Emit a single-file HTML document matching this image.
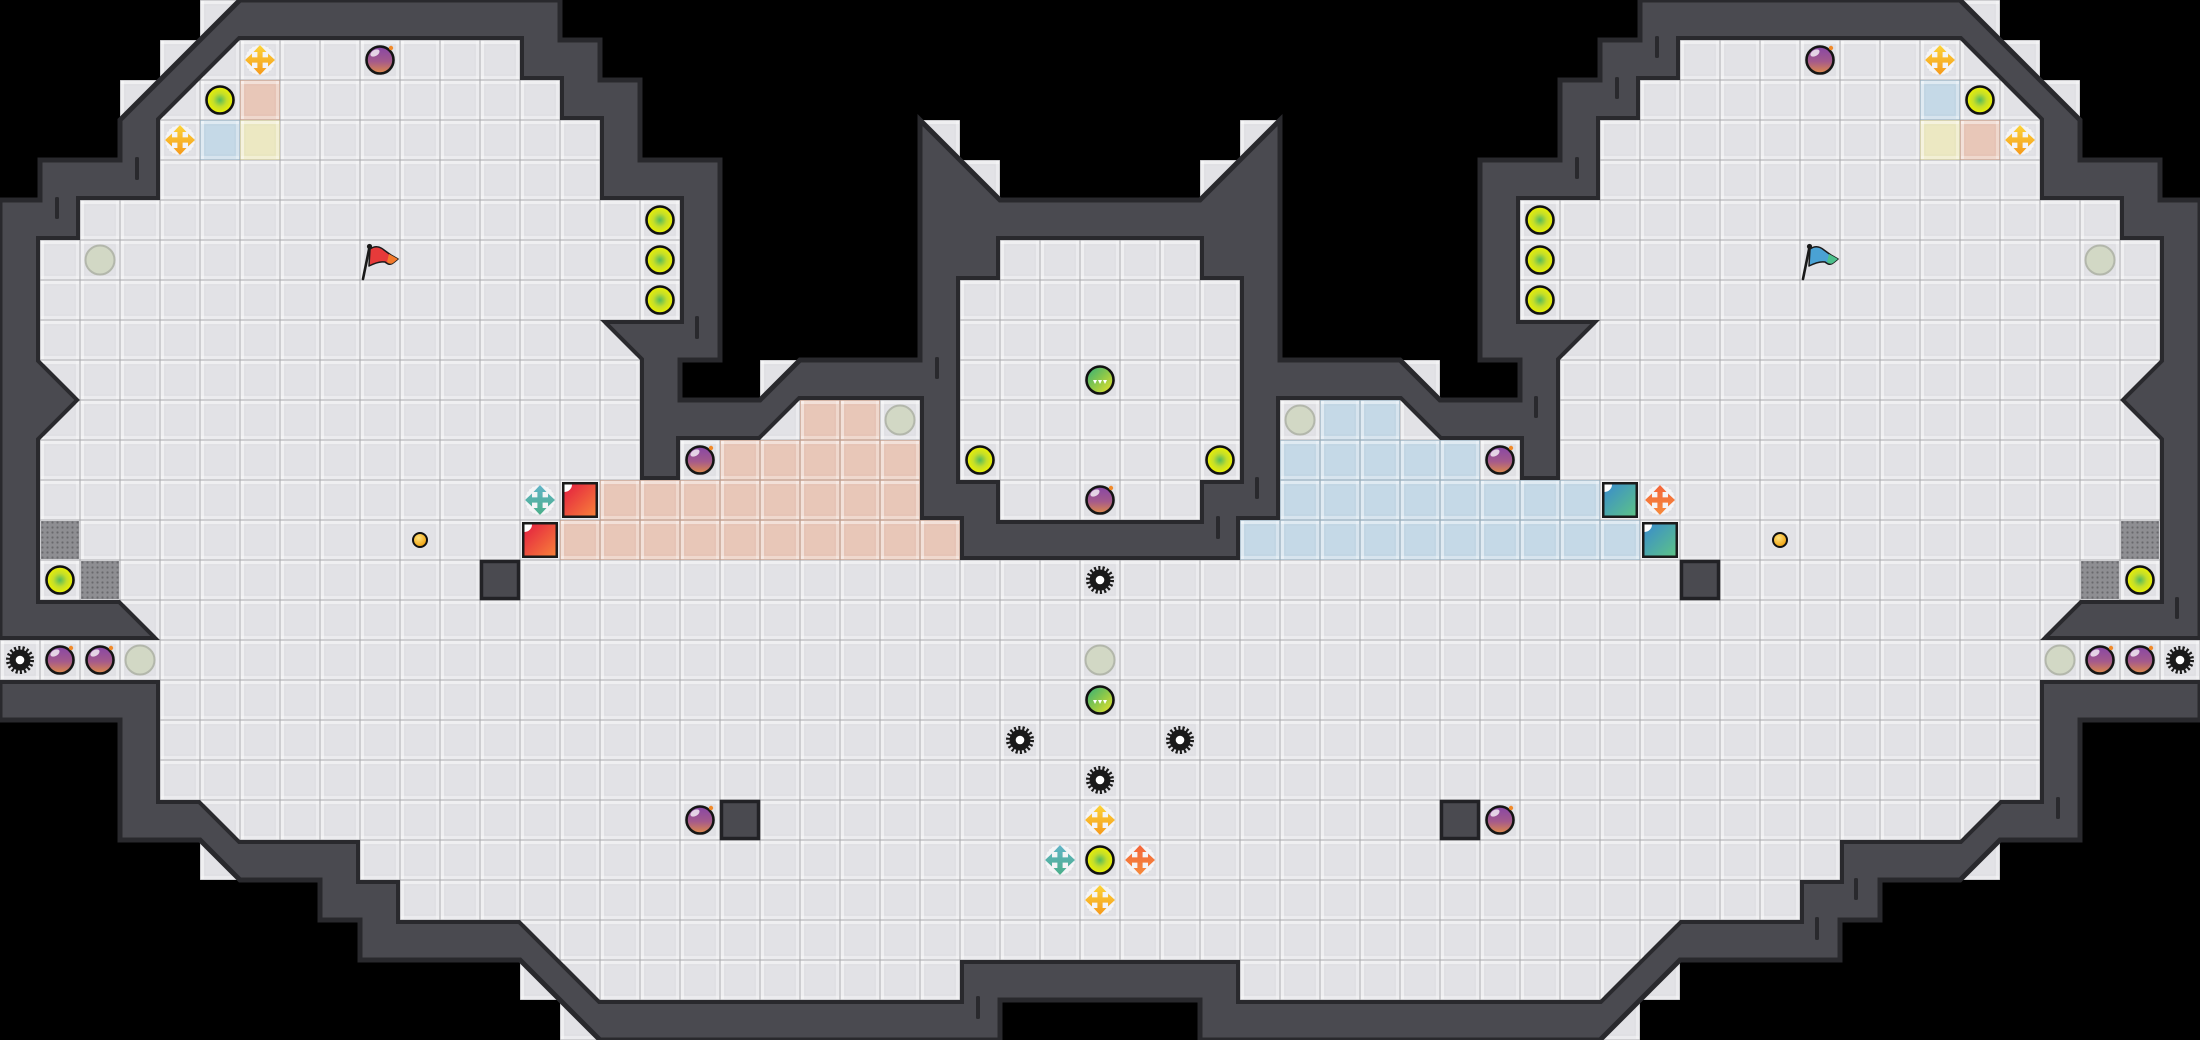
<!DOCTYPE html>
<html>
<head>
<meta charset="utf-8">
<style>
html,body{margin:0;padding:0;background:#000;}
svg{display:block;}
</style>
</head>
<body>
<svg xmlns="http://www.w3.org/2000/svg" width="2200" height="1040" viewBox="0 0 2200 1040">
<defs>
  <pattern id="grid" width="40" height="40" patternUnits="userSpaceOnUse">
    <rect x="1" y="1" width="38" height="3" fill="#fff" fill-opacity="0.45"/>
    <rect x="1" y="36" width="38" height="3" fill="#fff" fill-opacity="0.3"/>
    <rect x="1" y="1" width="3" height="38" fill="#fff" fill-opacity="0.45"/>
    <rect x="36" y="1" width="3" height="38" fill="#fff" fill-opacity="0.3"/>
    <rect x="0" y="0" width="40" height="1" fill="#000" fill-opacity="0.09"/>
    <rect x="0" y="39" width="40" height="1" fill="#000" fill-opacity="0.09"/>
    <rect x="0" y="0" width="1" height="40" fill="#000" fill-opacity="0.09"/>
    <rect x="39" y="0" width="1" height="40" fill="#000" fill-opacity="0.09"/>
    <rect x="5" y="5" width="30" height="30" fill="none" stroke="#000" stroke-opacity="0.025" stroke-width="1"/>
  </pattern>
  <pattern id="dots" width="5" height="5" patternUnits="userSpaceOnUse">
    <circle cx="2.5" cy="2.5" r="1.1" fill="#69696d"/>
  </pattern>
  <radialGradient id="gYC" cx="50%" cy="50%" r="50%">
    <stop offset="0" stop-color="#55bb5c"/>
    <stop offset="0.5" stop-color="#c4de2a"/>
    <stop offset="1" stop-color="#eef200"/>
  </radialGradient>
  <linearGradient id="gBomb" x1="0" y1="0" x2="0" y2="1">
    <stop offset="0" stop-color="#8746a6"/>
    <stop offset="0.55" stop-color="#a45a8c"/>
    <stop offset="1" stop-color="#de8a48"/>
  </linearGradient>
  <linearGradient id="gY" x1="0" y1="0" x2="0" y2="1">
    <stop offset="0" stop-color="#fcd43a"/>
    <stop offset="1" stop-color="#f5991c"/>
  </linearGradient>
  <linearGradient id="gT" x1="0" y1="0" x2="0" y2="1">
    <stop offset="0" stop-color="#63b4c8"/>
    <stop offset="1" stop-color="#4aae88"/>
  </linearGradient>
  <linearGradient id="gO" x1="0" y1="0" x2="0" y2="1">
    <stop offset="0" stop-color="#f4653a"/>
    <stop offset="1" stop-color="#f58a3c"/>
  </linearGradient>
  <linearGradient id="gRed" x1="0" y1="0" x2="1" y2="1">
    <stop offset="0" stop-color="#e31f40"/>
    <stop offset="1" stop-color="#f8803a"/>
  </linearGradient>
  <linearGradient id="gBlue" x1="0" y1="0" x2="1" y2="1">
    <stop offset="0" stop-color="#3a8ccc"/>
    <stop offset="1" stop-color="#5cc288"/>
  </linearGradient>
  <linearGradient id="gGreen" x1="0" y1="0" x2="1" y2="1">
    <stop offset="0" stop-color="#2fae7c"/>
    <stop offset="0.5" stop-color="#8cc84a"/>
    <stop offset="1" stop-color="#f0e428"/>
  </linearGradient>
  <radialGradient id="gCoin" cx="40%" cy="35%" r="60%">
    <stop offset="0" stop-color="#ffe27a"/>
    <stop offset="1" stop-color="#f0a414"/>
  </radialGradient>

  <g id="yc"><circle r="13.5" fill="url(#gYC)" stroke="#111" stroke-width="2.6"/></g>
  <g id="gc"><circle r="14.5" fill="#d2d8c5" stroke="#b3b7ab" stroke-width="2"/></g>
  <g id="bomb">
    <circle r="13.5" fill="url(#gBomb)" stroke="#151515" stroke-width="2.6"/>
    <ellipse cx="-5" cy="-7" rx="5" ry="3" fill="#fff" fill-opacity="0.75" transform="rotate(-30 -5 -7)"/>
    <circle cx="11" cy="-12" r="2.2" fill="#f08a2a"/>
  </g>
  <path id="crossShape" d="M-2.6,-8 H-6.5 L0,-15 L6.5,-8 H2.6 V-2.6 H8 V-6.5 L15,0 L8,6.5 V2.6 H2.6 V8 H6.5 L0,15 L-6.5,8 H-2.6 V2.6 H-8 V6.5 L-15,0 L-8,-6.5 V-2.6 H-2.6 Z"/>
  <g id="ycross"><circle r="15" fill="#f4f4f6" stroke="#dcdce0" stroke-width="1" stroke-dasharray="2 2"/><use href="#crossShape" fill="url(#gY)"/></g>
  <g id="tcross"><circle r="15" fill="#f4f4f6" stroke="#dcdce0" stroke-width="1" stroke-dasharray="2 2"/><use href="#crossShape" fill="url(#gT)"/></g>
  <g id="ocross"><circle r="15" fill="#f4f4f6" stroke="#dcdce0" stroke-width="1" stroke-dasharray="2 2"/><use href="#crossShape" fill="url(#gO)"/></g>
  <g id="redsq">
    <rect x="-18" y="-18" width="36" height="36" fill="#1b1b1b"/>
    <rect x="-15.5" y="-15.5" width="31" height="31" fill="url(#gRed)"/>
    <path d="M-15.5,-15.5 H-8 A7.5,7.5 0 0 1 -15.5,-8 Z" fill="#fff"/>
  </g>
  <g id="bluesq">
    <rect x="-18" y="-18" width="36" height="36" fill="#1b1b1b"/>
    <rect x="-15.5" y="-15.5" width="31" height="31" fill="url(#gBlue)"/>
    <path d="M-15.5,-15.5 H-8 A7.5,7.5 0 0 1 -15.5,-8 Z" fill="#fff"/>
  </g>
  <g id="gear">
    <circle r="10.5" fill="#1a1a1a"/>
    <circle r="12" fill="none" stroke="#1a1a1a" stroke-width="4" stroke-dasharray="2.1 2.09"/>
    <circle r="4.3" fill="#fff"/>
  </g>
  <g id="coin"><circle r="7" fill="url(#gCoin)" stroke="#111" stroke-width="2"/></g>
  <g id="gball">
    <circle r="13.5" fill="url(#gGreen)" stroke="#111" stroke-width="2.6"/>
    <path d="M-7,0 L-3,0 L-5,4 Z M-2,0 L2,0 L0,4 Z M3,0 L7,0 L5,4 Z" fill="#fff"/>
  </g>
</defs>

<!-- background -->
<rect width="2200" height="1040" fill="#000"/>

<!-- floor tiles peeking outside diagonal walls -->
<g>
  <g fill="#e2e2e6">
    <rect x="200" y="0" width="40" height="40"/><rect x="160" y="40" width="40" height="40"/><rect x="120" y="80" width="40" height="40"/>
    <rect x="920" y="120" width="40" height="40"/><rect x="960" y="160" width="40" height="40"/>
    <rect x="1200" y="160" width="40" height="40"/><rect x="1240" y="120" width="40" height="40"/>
    <rect x="760" y="360" width="40" height="40"/><rect x="1400" y="360" width="40" height="40"/>
    <rect x="1960" y="0" width="40" height="40"/><rect x="2000" y="40" width="40" height="40"/><rect x="2040" y="80" width="40" height="40"/>
    <rect x="200" y="840" width="40" height="40"/><rect x="520" y="960" width="40" height="40"/><rect x="560" y="1000" width="40" height="40"/>
    <rect x="1960" y="840" width="40" height="40"/><rect x="1640" y="960" width="40" height="40"/><rect x="1600" y="1000" width="40" height="40"/>
  </g>
  <g fill="url(#grid)">
    <rect x="200" y="0" width="40" height="40"/><rect x="160" y="40" width="40" height="40"/><rect x="120" y="80" width="40" height="40"/>
    <rect x="920" y="120" width="40" height="40"/><rect x="960" y="160" width="40" height="40"/>
    <rect x="1200" y="160" width="40" height="40"/><rect x="1240" y="120" width="40" height="40"/>
    <rect x="760" y="360" width="40" height="40"/><rect x="1400" y="360" width="40" height="40"/>
    <rect x="1960" y="0" width="40" height="40"/><rect x="2000" y="40" width="40" height="40"/><rect x="2040" y="80" width="40" height="40"/>
    <rect x="200" y="840" width="40" height="40"/><rect x="520" y="960" width="40" height="40"/><rect x="560" y="1000" width="40" height="40"/>
    <rect x="1960" y="840" width="40" height="40"/><rect x="1640" y="960" width="40" height="40"/><rect x="1600" y="1000" width="40" height="40"/>
  </g>
</g>

<!-- wall mass -->
<polygon fill="#4a4a50" stroke="#29292d" stroke-width="5" stroke-linejoin="miter"
 points="0,200 40,200 40,160 120,160 120,120 240,0 560,0 560,40 600,40 600,80 640,80 640,160 720,160 720,360 680,360 680,400 760,400 800,360 920,360 920,120 1000,200 1200,200 1280,120 1280,360 1400,360 1440,400 1520,400 1520,360 1480,360 1480,160 1560,160 1560,80 1600,80 1600,40 1640,40 1640,0 1960,0 2080,120 2080,160 2160,160 2160,200 2200,200 2200,720 2080,720 2080,840 2000,840 1960,880 1880,880 1880,920 1840,920 1840,960 1680,960 1600,1040 1200,1040 1200,1000 1000,1000 1000,1040 600,1040 520,960 360,960 360,920 320,920 320,880 240,880 200,840 120,840 120,720 0,720"/>

<!-- floor outlines (dark edge on wall side) -->
<g fill="none" stroke="#29292d" stroke-width="8" stroke-linejoin="miter">
  <polygon id="floorI" points="40,600 120,600 160,640 -20,640 -20,680 160,680 160,800 200,800 240,840 360,840 360,880 400,880 400,920 520,920 600,1000 960,1000 960,960 1240,960 1240,1000 1600,1000 1680,920 1800,920 1800,880 1840,880 1840,840 1960,840 2000,800 2040,800 2040,680 2220,680 2220,640 2040,640 2080,600 2160,600 2160,440 2120,400 2160,360 2160,240 2120,240 2120,200 2040,200 2040,120 1960,40 1680,40 1680,80 1640,80 1640,120 1600,120 1600,200 1520,200 1520,320 1600,320 1560,360 1560,480 1520,480 1520,440 1440,440 1400,400 1280,400 1280,520 1240,520 1240,560 960,560 960,520 920,520 920,400 800,400 760,440 680,440 680,480 640,480 640,360 600,320 680,320 680,200 600,200 600,120 560,120 560,80 520,80 520,40 240,40 160,120 160,200 80,200 80,240 40,240 40,360 80,400 40,440"/>
  <polygon id="floorC" points="1000,240 1200,240 1200,280 1240,280 1240,480 1200,480 1200,520 1000,520 1000,480 960,480 960,280 1000,280"/>
</g>
<use href="#floorI" fill="#e2e2e6" stroke="none"/>
<use href="#floorC" fill="#e2e2e6" stroke="none"/>

<!-- coloured floor cells -->
<g fill="#e8c7b8">
  <rect x="800" y="400" width="80" height="40"/>
  <rect x="720" y="440" width="200" height="40"/>
  <rect x="600" y="480" width="320" height="40"/>
  <rect x="560" y="520" width="400" height="40"/>
  <rect x="240" y="80" width="40" height="40"/>
  <rect x="1960" y="120" width="40" height="40"/>
</g>
<g fill="#c5d9e7">
  <rect x="1320" y="400" width="80" height="40"/>
  <rect x="1280" y="440" width="200" height="40"/>
  <rect x="1280" y="480" width="320" height="40"/>
  <rect x="1240" y="520" width="400" height="40"/>
  <rect x="200" y="120" width="40" height="40"/>
  <rect x="1920" y="80" width="40" height="40"/>
</g>
<g fill="#ece8c2">
  <rect x="240" y="120" width="40" height="40"/>
  <rect x="1920" y="120" width="40" height="40"/>
</g>

<!-- grid overlay -->
<use href="#floorI" fill="url(#grid)" stroke="none"/>
<use href="#floorC" fill="url(#grid)" stroke="none"/>

<!-- grates -->
<g>
  <rect x="41" y="521" width="38" height="38" fill="#8e8e92"/><rect x="41" y="521" width="38" height="38" fill="url(#dots)"/>
  <rect x="81" y="561" width="38" height="38" fill="#8e8e92"/><rect x="81" y="561" width="38" height="38" fill="url(#dots)"/>
  <rect x="2121" y="521" width="38" height="38" fill="#8e8e92"/><rect x="2121" y="521" width="38" height="38" fill="url(#dots)"/>
  <rect x="2081" y="561" width="38" height="38" fill="#8e8e92"/><rect x="2081" y="561" width="38" height="38" fill="url(#dots)"/>
</g>

<!-- dark blocks -->
<g fill="#4a4a50" stroke="#222226" stroke-width="3.5">
  <rect x="481.5" y="561.5" width="37" height="37"/>
  <rect x="721.5" y="801.5" width="37" height="37"/>
  <rect x="1441.5" y="801.5" width="37" height="37"/>
  <rect x="1681.5" y="561.5" width="37" height="37"/>
</g>

<!-- wall seam ticks -->
<g fill="#29292d">
  <rect x="135" y="157" width="4" height="23" rx="1.5"/>
  <rect x="55" y="197" width="4" height="22" rx="1.5"/>
  <rect x="695" y="316" width="4" height="23" rx="1.5"/>
  <rect x="935" y="357" width="4" height="22" rx="1.5"/>
  <rect x="976" y="996" width="4" height="23" rx="1.5"/>
  <rect x="1255" y="477" width="4" height="22" rx="1.5"/>
  <rect x="1216" y="516" width="4" height="23" rx="1.5"/>
  <rect x="1534" y="396" width="4" height="22" rx="1.5"/>
  <rect x="1575" y="157" width="4" height="22" rx="1.5"/>
  <rect x="1615" y="77" width="4" height="22" rx="1.5"/>
  <rect x="1655" y="36" width="4" height="22" rx="1.5"/>
  <rect x="2175" y="597" width="4" height="22" rx="1.5"/>
  <rect x="2056" y="797" width="4" height="22" rx="1.5"/>
  <rect x="1854" y="878" width="4" height="22" rx="1.5"/>
  <rect x="1815" y="917" width="4" height="23" rx="1.5"/>
</g>

<!-- yellow circles -->
<use href="#yc" x="220" y="100"/>
<use href="#yc" x="660" y="220"/>
<use href="#yc" x="660" y="260"/>
<use href="#yc" x="660" y="300"/>
<use href="#yc" x="60" y="580"/>
<use href="#yc" x="980" y="460"/>
<use href="#yc" x="1220" y="460"/>
<use href="#yc" x="1100" y="860"/>
<use href="#yc" x="1540" y="220"/>
<use href="#yc" x="1540" y="260"/>
<use href="#yc" x="1540" y="300"/>
<use href="#yc" x="1980" y="100"/>
<use href="#yc" x="2140" y="580"/>

<!-- grey circles -->
<use href="#gc" x="100" y="260"/>
<use href="#gc" x="900" y="420"/>
<use href="#gc" x="140" y="660"/>
<use href="#gc" x="1100" y="660"/>
<use href="#gc" x="1300" y="420"/>
<use href="#gc" x="2060" y="660"/>
<use href="#gc" x="2100" y="260"/>

<!-- bombs -->
<use href="#bomb" x="380" y="60"/>
<use href="#bomb" x="700" y="460"/>
<use href="#bomb" x="60" y="660"/>
<use href="#bomb" x="100" y="660"/>
<use href="#bomb" x="1100" y="500"/>
<use href="#bomb" x="700" y="820"/>
<use href="#bomb" x="1500" y="820"/>
<use href="#bomb" x="1500" y="460"/>
<use href="#bomb" x="1820" y="60"/>
<use href="#bomb" x="2100" y="660"/>
<use href="#bomb" x="2140" y="660"/>

<!-- crosses -->
<use href="#ycross" x="260" y="60"/>
<use href="#ycross" x="180" y="140"/>
<use href="#ycross" x="1100" y="820"/>
<use href="#ycross" x="1100" y="900"/>
<use href="#ycross" x="1940" y="60"/>
<use href="#ycross" x="2020" y="140"/>
<use href="#tcross" x="540" y="500"/>
<use href="#tcross" x="1060" y="860"/>
<use href="#ocross" x="1660" y="500"/>
<use href="#ocross" x="1140" y="860"/>

<!-- squares -->
<use href="#redsq" x="580" y="500"/>
<use href="#redsq" x="540" y="540"/>
<use href="#bluesq" x="1620" y="500"/>
<use href="#bluesq" x="1660" y="540"/>

<!-- gears -->
<use href="#gear" x="20" y="660"/>
<use href="#gear" x="1100" y="580"/>
<use href="#gear" x="1020" y="740"/>
<use href="#gear" x="1180" y="740"/>
<use href="#gear" x="1100" y="780"/>
<use href="#gear" x="2180" y="660"/>

<!-- coins -->
<use href="#coin" x="420" y="540"/>
<use href="#coin" x="1780" y="540"/>

<!-- green balls -->
<use href="#gball" x="1100" y="380"/>
<use href="#gball" x="1100" y="700"/>

<!-- flags -->
<g transform="translate(360,240)">
  <path d="M10,9 Q17,4 24,10 Q28,13 31,15 L38,19 L33,23 Q30,26 25,22 Q19,21 9,26 Z" fill="#e63a3a" stroke="#1a1a1a" stroke-width="1.5" stroke-linejoin="round"/>
  <path d="M29,14 L38,19 L33,23 Q30,25 27,22 Z" fill="#f27a2c"/>
  <line x1="3" y1="39" x2="9.5" y2="7" stroke="#1a1a1a" stroke-width="2.6" stroke-linecap="round"/>
  <circle cx="9.5" cy="6.5" r="2.6" fill="#1a1a1a"/>
</g>
<g transform="translate(1800,240)">
  <path d="M10,9 Q17,4 24,10 Q28,13 31,15 L38,19 L33,23 Q30,26 25,22 Q19,21 9,26 Z" fill="#4aa2d4" stroke="#1a1a1a" stroke-width="1.5" stroke-linejoin="round"/>
  <path d="M29,14 L38,19 L33,23 Q30,25 27,22 Z" fill="#4cc08c"/>
  <line x1="3" y1="39" x2="9.5" y2="7" stroke="#1a1a1a" stroke-width="2.6" stroke-linecap="round"/>
  <circle cx="9.5" cy="6.5" r="2.6" fill="#1a1a1a"/>
</g>
</svg>
</body>
</html>
